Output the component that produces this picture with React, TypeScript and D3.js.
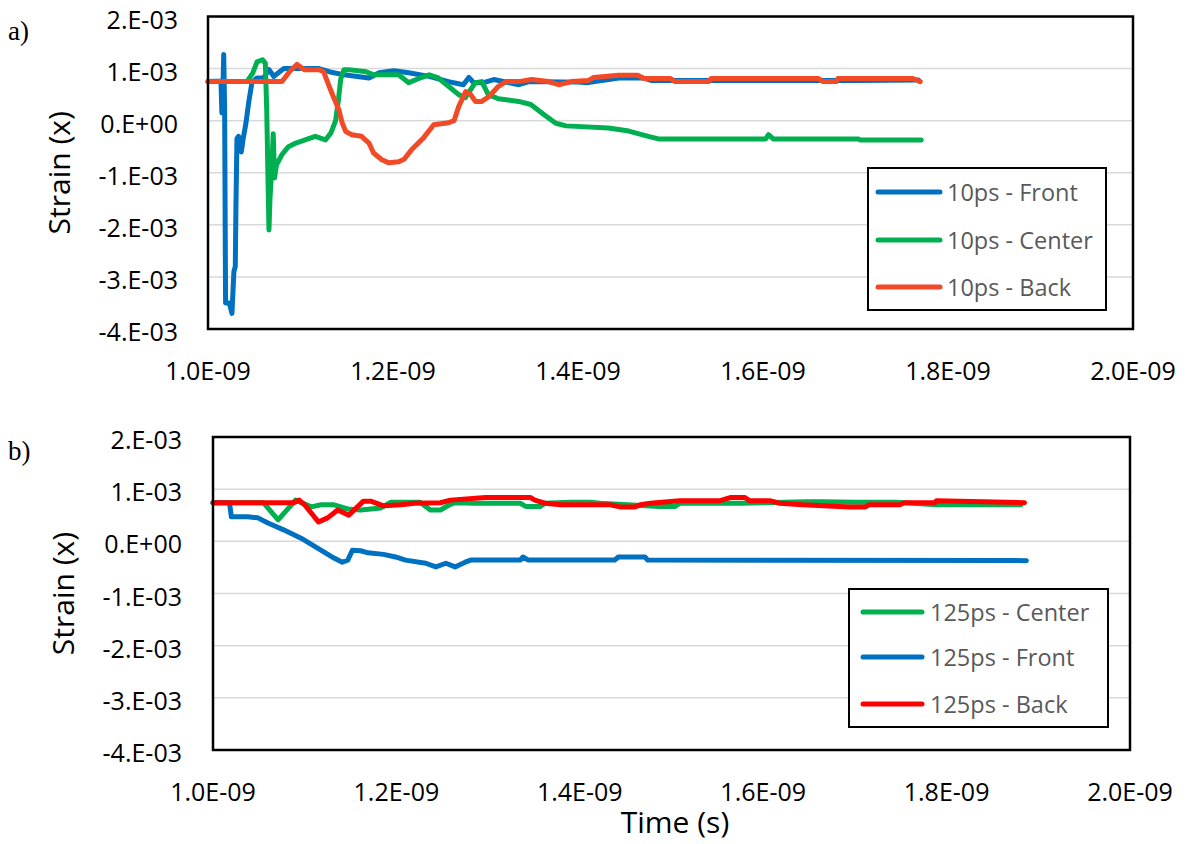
import React from "react";
import * as d3 from "d3";

// ---------- tick labels ----------
const xTicks = [1000, 1200, 1400, 1600, 1800, 2000]; // ps
const xTickLabels = ["1.0E-09", "1.2E-09", "1.4E-09", "1.6E-09", "1.8E-09", "2.0E-09"];
const yTicks = [2, 1, 0, -1, -2, -3, -4]; // units of 1E-03
const yTickLabels = ["2.E-03", "1.E-03", "0.E+00", "-1.E-03", "-2.E-03", "-3.E-03", "-4.E-03"];

// ---------- data: [time (ps), strain (1E-03)] ----------
const front10: [number, number][] = [
  [1000, 0.75], [1014, 0.76], [1015, 0.15], [1016, 0.5], [1017, 1.27], [1018, 0.15], [1019, -3.5],
  [1023, -3.5], [1025.9, -3.7], [1028, -2.9], [1029.5, -2.8], [1030.2, -1.65], [1031.3, -0.35],
  [1033, -0.3], [1036, -0.6], [1038, -0.35], [1041, -0.05], [1044, 0.35], [1047.5, 0.73],
  [1053, 0.82], [1060, 0.82], [1066, 0.98], [1071, 0.85], [1082, 1.0], [1120, 1.0], [1131, 0.94],
  [1147, 0.88], [1174, 0.82], [1185, 0.92], [1201, 0.96], [1217, 0.92], [1239, 0.85], [1260, 0.75],
  [1276, 0.69], [1282, 0.83], [1287, 0.73], [1298, 0.73], [1309, 0.79], [1336, 0.69], [1347, 0.75],
  [1400, 0.74], [1411, 0.73], [1444, 0.82], [1470, 0.82], [1480, 0.77], [1700, 0.77], [1768, 0.78],
];
const center10: [number, number][] = [
  [1000, 0.75], [1042, 0.75], [1048, 0.9], [1053, 1.13], [1059, 1.17], [1062, 1.1], [1063.5, 0.2],
  [1065.9, -2.1], [1067, -1.5], [1069, -0.9], [1070.5, -0.25], [1072, -1.1], [1074, -0.85],
  [1080, -0.65], [1087, -0.5], [1095, -0.43], [1105, -0.37], [1116, -0.3], [1127, -0.37],
  [1133, -0.23], [1138, 0.0], [1141, 0.4], [1143.5, 0.8], [1147, 0.98], [1152, 0.98], [1171, 0.94],
  [1179, 0.88], [1206, 0.88], [1217, 0.73], [1228, 0.81], [1239, 0.88], [1249, 0.82], [1260, 0.66],
  [1271, 0.5], [1278, 0.44], [1289, 0.73], [1296, 0.75], [1303, 0.5], [1314, 0.42], [1336, 0.37],
  [1349, 0.31], [1363, 0.12], [1376, -0.05], [1387, -0.1], [1433, -0.14], [1455, -0.2],
  [1476, -0.3], [1487, -0.35], [1603, -0.35], [1606, -0.27], [1611, -0.35], [1703, -0.35],
  [1705, -0.37], [1771, -0.37],
];
const back10: [number, number][] = [
  [1000, 0.75], [1080, 0.75], [1088, 0.94], [1096, 1.08], [1104, 0.98], [1120, 0.98], [1125, 0.94],
  [1131, 0.66], [1136, 0.44], [1141.5, 0.21], [1145, -0.04], [1149, -0.21], [1155.5, -0.27],
  [1166, -0.3], [1174, -0.43], [1179, -0.62], [1188, -0.75], [1195.5, -0.81], [1206, -0.79],
  [1212, -0.74], [1220, -0.56], [1233, -0.33], [1244, -0.08], [1260, -0.04], [1266, 0.0],
  [1271, 0.27], [1278.6, 0.56], [1284, 0.5], [1289, 0.37], [1296, 0.37], [1303.5, 0.46],
  [1314, 0.66], [1322, 0.75], [1336, 0.75], [1350, 0.79], [1368, 0.75], [1379, 0.69], [1393, 0.75],
  [1411, 0.77], [1417, 0.83], [1444, 0.87], [1465, 0.87], [1471, 0.81], [1500, 0.81], [1505, 0.75],
  [1541, 0.75], [1544, 0.81], [1660, 0.81], [1665, 0.75], [1679, 0.75], [1681, 0.81], [1762, 0.81],
  [1770, 0.75],
];

const center125: [number, number][] = [
  [1000, 0.74], [1055, 0.74], [1071, 0.41], [1090, 0.79], [1107, 0.66], [1118, 0.7], [1132, 0.7],
  [1147, 0.62], [1161, 0.6], [1172, 0.62], [1183, 0.64], [1194, 0.75], [1226, 0.75], [1237, 0.6],
  [1248, 0.6], [1259, 0.71], [1264, 0.74], [1286, 0.73], [1335, 0.73], [1341, 0.67], [1357, 0.67],
  [1362, 0.73], [1390, 0.75], [1411, 0.75], [1422, 0.73], [1487, 0.67], [1504, 0.67], [1509, 0.73],
  [1575, 0.73], [1647, 0.76], [1665, 0.76], [1700, 0.75], [1745, 0.75], [1789, 0.7], [1881, 0.7],
];
const front125: [number, number][] = [
  [1000, 0.74], [1018, 0.74], [1020, 0.47], [1038, 0.47], [1049, 0.45], [1060, 0.35], [1077, 0.22],
  [1096, 0.06], [1114, -0.13], [1132, -0.32], [1141, -0.4], [1147, -0.36], [1152, -0.17],
  [1161, -0.18], [1169, -0.22], [1186, -0.25], [1199, -0.3], [1210, -0.36], [1232, -0.42],
  [1243, -0.49], [1254, -0.42], [1264, -0.49], [1275, -0.4], [1281, -0.36], [1335, -0.36],
  [1338, -0.3], [1344, -0.36], [1438, -0.36], [1442, -0.3], [1471, -0.3], [1474, -0.36],
  [1887, -0.37],
];
const back125: [number, number][] = [
  [1000, 0.74], [1088, 0.74], [1094, 0.79], [1100, 0.7], [1115, 0.37], [1125, 0.45], [1136, 0.6],
  [1148, 0.5], [1164, 0.77], [1172, 0.77], [1186, 0.68], [1205, 0.7], [1220, 0.73], [1248, 0.74],
  [1259, 0.79], [1297, 0.84], [1346, 0.84], [1351, 0.79], [1362, 0.73], [1379, 0.7], [1433, 0.7],
  [1444, 0.66], [1460, 0.66], [1466, 0.7], [1477, 0.73], [1509, 0.78], [1553, 0.78], [1564, 0.84],
  [1580, 0.84], [1585, 0.78], [1607, 0.78], [1618, 0.73], [1643, 0.7], [1694, 0.66], [1711, 0.66],
  [1716, 0.7], [1749, 0.7], [1754, 0.74], [1787, 0.74], [1789, 0.78], [1885, 0.74],
];

const BLUE = "#0070C0";
const GREEN = "#00B050";
const RED_A = "#F24A26";
const RED_B = "#FF0000";

type Series = { name: string; color: string; data: [number, number][] };

const topSeries: Series[] = [
  { name: "10ps - Front", color: BLUE, data: front10 },
  { name: "10ps - Center", color: GREEN, data: center10 },
  { name: "10ps - Back", color: RED_A, data: back10 },
];
const bottomSeries: Series[] = [
  { name: "125ps - Center", color: GREEN, data: center125 },
  { name: "125ps - Front", color: BLUE, data: front125 },
  { name: "125ps - Back", color: RED_B, data: back125 },
];

const FONT = "'Open Sans', 'Liberation Sans', sans-serif";

type PanelProps = {
  series: Series[];
  left: number; right: number; top: number; bottom: number;
  yLabelX: number; xLabelY: number; titleX: number;
  letter: string; letterY: number;
  legend: { x0: number; x1: number; y0: number; y1: number; lx0: number; lx1: number; tx: number; rows: number[] };
};

function Panel(p: PanelProps) {
  const x = d3.scaleLinear().domain([1000, 2000]).range([p.left, p.right]);
  const y = d3.scaleLinear().domain([-4, 2]).range([p.bottom, p.top]);
  const line = d3
    .line<[number, number]>()
    .x((d) => x(d[0]))
    .y((d) => y(d[1]));
  const midY = (p.top + p.bottom) / 2;
  return (
    <g>
      {yTicks.map((t) => (
        <line key={"g" + t} x1={p.left} x2={p.right} y1={y(t)} y2={y(t)} stroke="#d9d9d9" strokeWidth={1.5} />
      ))}
      {p.series.map((s) => (
        <path
          key={s.name}
          d={line(s.data) || ""}
          fill="none"
          stroke={s.color}
          strokeWidth={5}
          strokeLinejoin="round"
          strokeLinecap="round"
        />
      ))}
      <rect
        x={p.left}
        y={p.top}
        width={p.right - p.left}
        height={p.bottom - p.top}
        fill="none"
        stroke="#000"
        strokeWidth={2.5}
      />
      {yTicks.map((t, i) => (
        <text
          key={"yl" + t}
          x={p.yLabelX}
          y={y(t) + 2}
          textAnchor="end"
          dominantBaseline="central"
          fontFamily={FONT}
          fontSize={25}
          fill="#000"
        >
          {yTickLabels[i]}
        </text>
      ))}
      {xTicks.map((t, i) => (
        <text
          key={"xl" + t}
          x={x(t)}
          y={p.xLabelY}
          textAnchor="middle"
          dominantBaseline="central"
          fontFamily={FONT}
          fontSize={25}
          fill="#000"
        >
          {xTickLabels[i]}
        </text>
      ))}
      <text
        transform={`translate(${p.titleX},${midY}) rotate(-90)`}
        textAnchor="middle"
        dominantBaseline="central"
        fontFamily={FONT}
        fontSize={30}
        fill="#000"
      >
        Strain (x)
      </text>
      <text x={8} y={p.letterY} fontFamily="'Liberation Serif', 'Times New Roman', serif" fontSize={27} fill="#000">
        {p.letter}
      </text>
      <rect
        x={p.legend.x0}
        y={p.legend.y0}
        width={p.legend.x1 - p.legend.x0}
        height={p.legend.y1 - p.legend.y0}
        fill="#fff"
        stroke="#000"
        strokeWidth={2}
      />
      {p.series.map((s, i) => (
        <g key={"lg" + s.name}>
          <line
            x1={p.legend.lx0}
            x2={p.legend.lx1}
            y1={p.legend.rows[i]}
            y2={p.legend.rows[i]}
            stroke={s.color}
            strokeWidth={5}
            strokeLinecap="round"
          />
          <text
            x={p.legend.tx}
            y={p.legend.rows[i]}
            dominantBaseline="central"
            fontFamily={FONT}
            fontSize={23.5}
            fill="#595959"
          >
            {s.name}
          </text>
        </g>
      ))}
    </g>
  );
}

export default function App() {
  return (
    <svg width={1186} height={844} style={{ position: "absolute", left: 0, top: 0, background: "#fff" }}>
      <rect x={0} y={0} width={1186} height={844} fill="#fff" />
      <Panel
        series={topSeries}
        left={208}
        right={1133}
        top={16.5}
        bottom={329}
        yLabelX={178}
        xLabelY={370}
        titleX={58}
        letter="a)"
        letterY={40}
        legend={{ x0: 868, x1: 1106, y0: 168, y1: 310, lx0: 878, lx1: 940, tx: 947, rows: [192, 240, 287] }}
      />
      <Panel
        series={bottomSeries}
        left={213}
        right={1130}
        top={437}
        bottom={750}
        yLabelX={182}
        xLabelY={791}
        titleX={62}
        letter="b)"
        letterY={460}
        legend={{ x0: 849, x1: 1108, y0: 589, y1: 727, lx0: 863, lx1: 922, tx: 930, rows: [612, 657, 704] }}
      />
      <text
        x={675}
        y={821}
        textAnchor="middle"
        dominantBaseline="central"
        fontFamily={FONT}
        fontSize={30}
        fill="#000"
      >
        Time (s)
      </text>
    </svg>
  );
}
